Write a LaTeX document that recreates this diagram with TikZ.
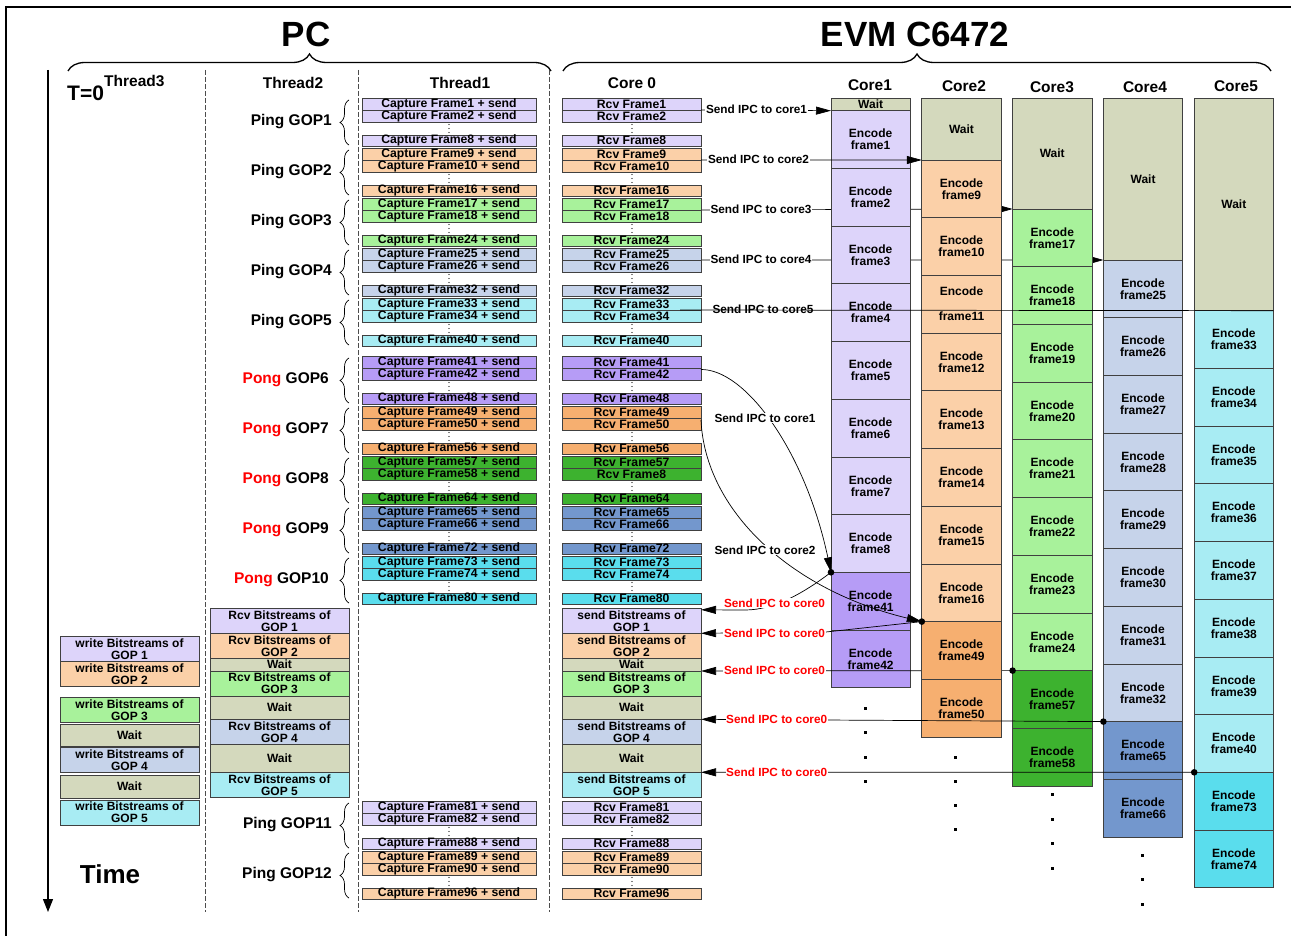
\documentclass[tikz,border=0pt]{standalone}
\usepackage{fontspec}
\setmainfont{Liberation Sans}
\usetikzlibrary{arrows.meta,decorations.pathreplacing}
\definecolor{lav}{HTML}{DDD4FA}
\definecolor{pea}{HTML}{FBD0A8}
\definecolor{lgr}{HTML}{A8F29B}
\definecolor{lbl}{HTML}{C6D3EA}
\definecolor{lcy}{HTML}{A8ECF3}
\definecolor{pur}{HTML}{B69CF6}
\definecolor{ora}{HTML}{F6AF70}
\definecolor{gre}{HTML}{3DB22F}
\definecolor{blu}{HTML}{7397CD}
\definecolor{cya}{HTML}{5ADDED}
\definecolor{wai}{HTML}{D4D9BD}
\newcommand\myfs[1]{\fontsize{#1}{#1}\selectfont\bfseries}
\pgfdeclarelayer{lz}\pgfdeclarelayer{lo}\pgfdeclarelayer{lt}\pgfdeclarelayer{lc}
\pgfsetlayers{lz,lo,lt,lc,main}
\begin{document}
\begin{tikzpicture}[x=1pt,y=-1pt,
 cellbox/.style={draw=black!75, line width=0.8pt, inner sep=0pt, outer sep=0pt, anchor=north west, font=\myfs{12.2}, align=center},
 tcell/.style={cellbox, minimum width=174, minimum height=12},
 ccell/.style={cellbox, minimum width=139, minimum height=12},
 bcell/.style={cellbox, minimum width=139, minimum height=25, font=\fontsize{12}{12}\selectfont\bfseries},
 kcell/.style={cellbox, minimum width=79.3, minimum height=57.7, font=\fontsize{12}{12}\selectfont\bfseries},
 hdr/.style={font=\myfs{15.5}, inner sep=0},
 glab/.style={font=\myfs{15.5}, inner sep=0, anchor=east},
 gbrace/.style={decorate, decoration={brace, amplitude=9pt}, line width=0.7pt},
 ipc/.style={line width=0.7pt, draw=black},
 tip/.style={-{Triangle[length=15pt,width=8pt]}},
 stip/.style={-{Triangle[length=11pt,width=6pt]}},
 lab/.style={font=\myfs{11.8}, inner sep=0.6pt, fill=white},
 rlab/.style={lab, text=red},
 dline/.style={dash pattern=on 5pt off 2pt, line width=0.7pt, draw=black!70},
]
\useasboundingbox (0,0) rectangle (1291,936);
% outer frame
\draw[line width=1.6pt] (6,940) -- (6,7) -- (1295,7);
% titles and braces
\node[font=\myfs{35}, inner sep=0] (pc) at (306,34) {PC};
\node[font=\myfs{35}, inner sep=0] (evm) at (915,34) {EVM C6472};
\draw[decorate, decoration={brace, amplitude=17pt}, line width=1.3pt] (68,71) -- (551,71);
\draw[decorate, decoration={brace, amplitude=17pt}, line width=1.3pt] (563,71) -- (1271,71);
% timeline and separators
\coordinate (tla) at (48,70); \coordinate (tlb) at (48,912);
\draw[line width=1.1pt, -{Triangle[length=13pt,width=10pt]}] (tla) -- (tlb);
\foreach \x [count=\n] in {205,358,549} {\coordinate (da\n) at (\x,70); \coordinate (db\n) at (\x,912); \draw[dline] (da\n) -- (db\n);}
% headers
\node[font=\myfs{21}, anchor=base west, inner sep=0] (t0) at (67,101) {T=0};
\node[hdr, anchor=base west] (th3) at (104,87) {Thread3};
\node[hdr] (th2) at (293,83) {Thread2};
\node[hdr] (th1) at (460,83) {Thread1};
\node[hdr] (co0) at (632,83) {Core 0};
\node[hdr] (co1) at (870,85) {Core1};
\node[hdr] (co2) at (964,86) {Core2};
\node[hdr] (co3) at (1052,87) {Core3};
\node[hdr] (co4) at (1145,87) {Core4};
\node[hdr] (co5) at (1236,86) {Core5};
% Thread1 / Core0 frame rows
\foreach \gi/\tp/\cl/\fa/\fb/\fbb/\fe in {1/98/lav/1/2/2/8, 2/148/pea/9/10/10/16, 3/198/lgr/17/18/18/24, 4/248/lbl/25/26/26/32, 5/298/lcy/33/34/34/40, 6/356/pur/41/42/42/48, 7/406/ora/49/50/50/56, 8/456/gre/57/58/8/64, 9/506/blu/65/66/66/72, 10/556/cya/73/74/74/80, 11/801/lav/81/82/82/88, 12/851/pea/89/90/90/96}{
 \node[tcell, fill=\cl] (ta\gi) at (362,\tp) {Capture Frame\fa{} + send};
 \node[tcell, fill=\cl] (tb\gi) at (362,\tp+12) {Capture Frame\fb{} + send};
 \node[tcell, fill=\cl, minimum height=11.5] (te\gi) at (362,\tp+37) {Capture Frame\fe{} + send};
 \node[ccell, fill=\cl] (ca\gi) at (562,\tp) {Rcv Frame\fa};
 \node[ccell, fill=\cl] (cb\gi) at (562,\tp+12) {Rcv Frame\fbb};
 \node[ccell, fill=\cl, minimum height=11.5] (ce\gi) at (562,\tp+37) {Rcv Frame\fe};
 \foreach \dy in {26.5,30.5,34.5} {\fill (449,\tp+\dy) circle (0.65); \fill (632,\tp+\dy) circle (0.65);}
}
% Ping / Pong labels
\foreach \gi/\tp in {1/98,2/148,3/198,4/248,5/298,11/801,12/851}{
 \node[glab] (pl\gi) at (332,\tp+24) {Ping GOP\gi};
 \draw[gbrace] (349,\tp+47) -- (349,\tp+2);
}
\foreach \gi/\tp in {6/356,7/406,8/456,9/506,10/556}{
 \node[glab] (pl\gi) at (329,\tp+24) {\textcolor{red}{Pong} GOP\gi};
 \draw[gbrace] (349,\tp+47) -- (349,\tp+2);
}
% Thread2 / Core0 bitstreams
\foreach \k/\tp/\cl in {1/608.3/lav,2/633.3/pea,3/671/lgr,4/719.3/lbl,5/772.3/lcy}{
 \node[bcell, fill=\cl] (r\k) at (210,\tp) {Rcv Bitstreams of\\GOP \k};
 \node[bcell, fill=\cl] (s\k) at (562,\tp) {send Bitstreams of\\GOP \k};
}
\foreach \k/\tp/\h in {1/658.3/12.7,2/696/23.3,3/744.3/28}{
 \node[bcell, fill=wai, minimum height=\h] (rw\k) at (210,\tp) {Wait};
 \node[bcell, fill=wai, minimum height=\h] (sw\k) at (562,\tp) {Wait};
}
% Thread3
\foreach \k/\tp/\cl/\h in {1/636.7/lav/24.3,2/661/pea/25.7,3/697.7/lgr/25,4/747.3/lbl/25.4,5/800/lcy/25}{
 \node[bcell, fill=\cl, minimum height=\h] (w\k) at (60,\tp) {write Bitstreams of\\GOP \k};
}
\node[bcell, fill=wai, minimum height=21.7] (ww1) at (60,724.3) {Wait};
\node[bcell, fill=wai, minimum height=23.3] (ww2) at (60,775) {Wait};
\node[font=\myfs{26}, inner sep=0] (time) at (110,874) {Time};
% cores
\foreach \i/\W/\lc/\dc/\ly in {1/110.7/lav/pur/lo,2/160/pea/ora/lc,3/209/lgr/gre/lc,4/260/lbl/blu/lc,5/310.7/lcy/cya/lc}{
 \begin{pgfonlayer}{\ly}
 \pgfmathsetmacro\xl{831+90.8*(\i-1)}
 \node[kcell, fill=wai, minimum height={\W-98.3}] (c\i-w) at (\xl,98.3) {Wait};
 \foreach \j in {0,...,7}{
   \pgfmathtruncatemacro\frn{8*(\i-1)+1+\j}
   \ifnum\frn=11 \gdef\enctxt{}\else\gdef\enctxt{Encode\\frame\frn}\fi
   \node[kcell, fill=\lc] (c\i-\j) at (\xl,\W+57.7*\j) {\enctxt};
 }
 \foreach \j in {8,9}{
   \pgfmathtruncatemacro\frn{41+8*(\i-1)+\j-8}
   \node[kcell, fill=\dc] (c\i-\j) at (\xl,\W+57.7*\j) {Encode\\frame\frn};
 }
 \end{pgfonlayer}
}
\node[font=\myfs{12}, inner sep=0] (f11a) at (961.5,291) {Encode};
\node[font=\myfs{12}, inner sep=0] (f11b) at (961.5,316) {frame11};
% continuation dots below cores
\foreach \x/\y in {865/708,865/732.5,865/757,865/781.5, 955.7/757,955.7/781,955.7/805.5,955.7/829.5, 1052/794.5,1052/819,1052/843.5,1052/868, 1142.7/855.7,1142.7/879.5,1142.7/904.3}{
 \fill (\x-1.5,\y-1.5) rectangle (\x+1.5,\y+1.5);
}
% IPC lines behind cores
\begin{pgfonlayer}{lz}
\draw[ipc, stip] (cb3.north east) -- (c3-w.south west);
\draw[ipc, stip] ([xshift=-11pt]cb4.north east) -- (c4-w.south west);
\end{pgfonlayer}
\begin{pgfonlayer}{lt}
\draw[ipc, tip] (c3-8.north west) -- (s3.north east);
\end{pgfonlayer}
% IPC lines on top
\draw[ipc, tip] (cb1.north east) -- (c1-w.south west);
\draw[ipc, tip] (cb2.north east) -- (c2-w.south west);
\node[lab, fill=none] (l5) at (763,309.5) {Send IPC to core5};
\draw[ipc] ([xshift=-21pt]cb5.north east) -- (c5-w.south east);
\draw[ipc, tip] ([yshift=-1.5pt]cb6.north east) .. controls (745,369) and (805,450) .. (c1-8.north west);
\draw[ipc, tip] ([yshift=-2pt]cb7.north east) .. controls (705,510) and (790,590) .. (c2-8.north west);
\coordinate (rk1) at (745,610);
\draw[ipc, tip] (c1-8.north west) .. controls (805,592) and (775,610) .. (rk1) -- ([yshift=-1.5pt]s1.north east);
\coordinate (rk2) at (826,632);
\draw[ipc, tip] (c2-8.north west) -- (rk2) -- (s2.north east);
\draw[ipc, tip] (c4-8.north west) -- (s4.north east);
\draw[ipc, tip] (c5-8.north west) -- (s5.north east);
\foreach \i in {1,...,5} {\fill (c\i-8.north west) circle (3.3);}
% labels
\node[lab] (l1) at (756.5,109.5) {Send IPC to core1};
\node[lab] (l2) at (758.5,159.5) {Send IPC to core2};
\node[lab] (l3) at (761,209) {Send IPC to core3};
\node[lab] (l4) at (761,259) {Send IPC to core4};
\node[lab] (l6) at (765,418) {Send IPC to core1};
\node[lab] (l7) at (765,550) {Send IPC to core2};
\node[rlab] (r01) at (774.5,603) {Send IPC to core0};
\node[rlab] (r02) at (774.5,633.5) {Send IPC to core0};
\node[rlab] (r03) at (774.5,670.5) {Send IPC to core0};
\node[rlab] (r04) at (776.7,719.5) {Send IPC to core0};
\node[rlab] (r05) at (776.7,772) {Send IPC to core0};
\end{tikzpicture}
\end{document}
